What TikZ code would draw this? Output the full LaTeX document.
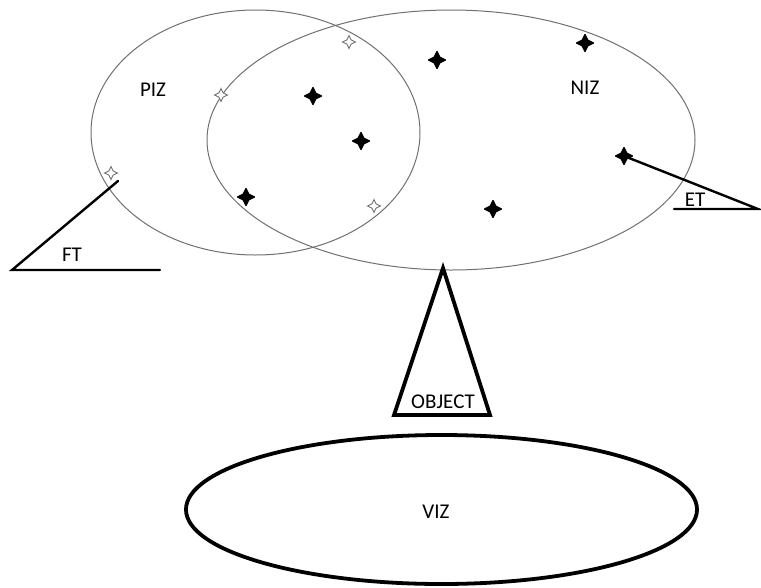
\documentclass[tikz,border=0pt]{standalone}
\usepackage{fontspec}
\setmainfont{Carlito}
\usetikzlibrary{shapes.geometric}
\definecolor{zonegray}{HTML}{707070}
\begin{document}
\begin{tikzpicture}[x=1pt,y=-1pt,
  zone/.style={ellipse, draw=zonegray, line width=1pt, inner sep=0pt},
  fullstar/.style={star, star points=4, star point ratio=2.1, fill=black, draw=black, line width=1.2pt, line join=round, minimum size=17pt, inner sep=0pt},
  hollowstar/.style={star, star points=4, star point ratio=2.2, fill=white, draw=zonegray, line width=0.9pt, minimum size=13pt, inner sep=0pt},
  lbl/.style={font=\fontsize{21}{24}\selectfont, inner sep=0pt},
  pointer/.style={line width=2.4pt, line cap=round},
  thick/.style={line width=3.8pt, line join=miter}
]
\useasboundingbox (0,0) rectangle (761,587);

% zones
\node[zone, minimum width=329pt, minimum height=245pt] (piz) at (255.5,132.5) {};
\node[zone, minimum width=488pt, minimum height=260pt] (niz) at (451,140) {};
\node[lbl] (pizl) at (153,90) {PIZ};
\node[lbl] (nizl) at (585,88) {NIZ};

% object triangle
\coordinate (apex) at (443,268);
\coordinate (bl) at (394,415);
\coordinate (br) at (490,415);
\draw[thick] (apex) -- (bl) -- (br) -- cycle;
\node[lbl] (obj) at (443,402) {OBJECT};

% VIZ
\node[ellipse, draw=black, line width=3.8pt, minimum width=511pt, minimum height=149pt, inner sep=0pt] (viz) at (441.5,509.5) {};
\node[lbl] (vizl) at (436,512) {VIZ};

% FT
\coordinate (ftTop) at (118,181);
\coordinate (ftCorner) at (12,270);
\coordinate (ftEnd) at (160,270);
\draw[pointer] (ftTop) -- (ftCorner) -- (ftEnd);
\node[lbl] (ftl) at (72,255) {FT};

% stars
\node[hollowstar] (h1) at (349,42) {};
\node[hollowstar] (h2) at (221,95) {};
\node[hollowstar] (h3) at (111,173) {};
\node[hollowstar] (h4) at (374,206) {};
\node[fullstar] (s1) at (437,60) {};
\node[fullstar] (s2) at (585,43) {};
\node[fullstar] (s3) at (313,96) {};
\node[fullstar] (s4) at (361,141) {};
\node[fullstar] (s5) at (246,197) {};
\node[fullstar] (s6) at (493,209) {};
\node[fullstar] (s7) at (624,156) {};

% ET
\coordinate (etEnd) at (758,209);
\coordinate (etStart) at (674,209);
\draw[pointer] (s7.center) -- (etEnd) -- (etStart);
\node[lbl] (etl) at (695,200) {ET};
\end{tikzpicture}
\end{document}
